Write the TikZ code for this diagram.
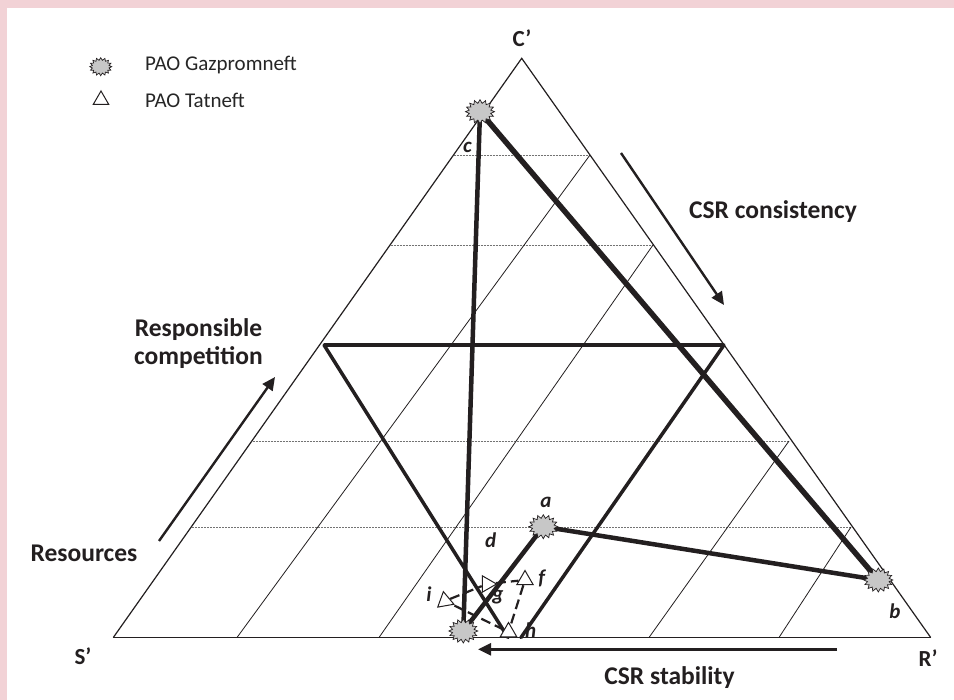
\documentclass[tikz,border=0pt]{standalone}
\usepackage{fontspec}
\setmainfont{Carlito}
\usetikzlibrary{shapes.symbols,shapes.geometric,arrows.meta}
\pgfdeclarelayer{bgfill}
\pgfdeclarelayer{lines}
\pgfsetlayers{bgfill,lines,main}
\definecolor{framepink}{RGB}{242,210,214}
\definecolor{ink}{RGB}{35,31,32}
\begin{document}
\begin{tikzpicture}[x=1pt,y=-1pt,
  edge/.style={line width=1.2pt, ink},
  thinline/.style={line width=0.8pt, ink},
  gridline/.style={line width=0.7pt, black!55, dash pattern=on 2pt off 1pt},
  heavy/.style={line width=4.5pt, ink},
  heavier/.style={line width=5.5pt, ink},
  midline/.style={line width=3.5pt, ink},
  gstar/.style={starburst, starburst points=16, starburst point height=3.5pt, random starburst=0, minimum width=29pt, minimum height=24pt, inner sep=0pt, fill=black!22, draw=ink, line width=0.7pt},
  tat/.style={regular polygon, regular polygon sides=3, draw=ink, fill=white, line width=1pt, inner sep=0pt, minimum size=19pt},
  tdash/.style={line width=2.2pt, ink, dash pattern=on 10pt off 5pt},
  lbl/.style={font=\bfseries\fontsize{25.5}{28}\selectfont, text=ink},
  vlbl/.style={font=\bfseries\fontsize{23}{25}\selectfont, text=ink},
  ptl/.style={font=\bfseries\itshape\fontsize{21}{23}\selectfont, text=ink},
  leg/.style={font=\fontsize{21}{24}\selectfont, text=black!85, anchor=west, inner sep=0pt},
  arr/.style={line width=2.4pt, ink, -{Triangle[length=13pt,width=12pt]}}
]
\useasboundingbox (0,0) rectangle (954,700);
\begin{pgfonlayer}{bgfill}
\fill[framepink] (0,0) rectangle (954,700);
\fill[white] (7,8) rectangle (954,700);
\end{pgfonlayer}

% main triangle
\coordinate (S) at (113.3,637.5);
\coordinate (R) at (930.7,637.5);
\coordinate (C) at (521.7,58.3);

% grid line ends
\coordinate (g1l) at (453.5,155);
\coordinate (g1r) at (590,155);
\coordinate (g2l) at (390.5,245);
\coordinate (g2r) at (653,245);
\coordinate (g3l) at (252.6,441);
\coordinate (g3r) at (789,441);
\coordinate (g4l) at (192,527);
\coordinate (g4r) at (851,527);
\coordinate (b1) at (237,637.5);
\coordinate (b2) at (379,637.5);
\coordinate (b3) at (649,637.5);
\coordinate (b4) at (779,637.5);

% inverted triangle
\coordinate (iL) at (324,345);
\coordinate (iR) at (724,345);
\coordinate (iB1) at (508,637.5);
\coordinate (iB2) at (521,637.5);

% stars
\node[gstar] (sc) at (480,111.7) {};
\node[gstar] (sa) at (543.3,526.7) {};
\node[gstar] (sb) at (878.3,580) {};
\node[gstar] (sd) at (463.3,631) {};

% Tatneft triangles
\node[tat] (tf) at (525,580) {};
\node[tat, rotate=-90] (tg) at (487,584) {};
\node[tat, rotate=10] (ti) at (445,601) {};
\node[tat] (th) at (508.5,632) {};

\begin{pgfonlayer}{lines}
\draw[gridline] (g1l) -- (g1r);
\draw[gridline] (g2l) -- (g2r);
\draw[gridline] (g3l) -- (g3r);
\draw[gridline] (g4l) -- (g4r);
\draw[thinline] (b1) -- (g1r);
\draw[thinline] (b2) -- (g2r);
\draw[thinline] (b3) -- (g3r);
\draw[thinline] (b4) -- (g4r);
\draw[edge] (S) -- (C) -- (R);
\draw[line width=1.8pt, ink] (S) -- (R);
\draw[midline] (iL) -- (iR);
\draw[midline, line cap=round] (iL) -- (iB1);
\draw[midline, line cap=round] (iR) -- (iB2);
\draw[heavy] (sc.center) -- (sd.center);
\draw[heavier] (sc.center) -- (sb.center);
\draw[heavy] (sa.center) -- (sb.center);
\draw[heavy] (sa.center) -- (sd.center);
\draw[tdash] (ti) -- (tg) -- (tf) -- (th) -- (ti);
\end{pgfonlayer}

% arrows
\coordinate (a1s) at (621,153);
\coordinate (a1e) at (724,305);
\coordinate (a2s) at (159,541);
\coordinate (a2e) at (275,377);
\coordinate (a3s) at (837,649.3);
\coordinate (a3e) at (478,649.3);
\draw[arr] (a1s) -- (a1e);
\draw[arr] (a2s) -- (a2e);
\draw[arr] (a3s) -- (a3e);

% labels
\node[vlbl] (lC) at (522,38) {C’};
\node[vlbl] (lS) at (83,656) {S’};
\node[vlbl] (lR) at (928,658.5) {R’};
\node[lbl] (lcons) at (773,212) {CSR consistency};
\node[lbl, align=center] (lresp) at (198.4,344) {Responsible\\competition};
\node[lbl] (lres) at (84,553.6) {Resources};
\node[lbl] (lstab) at (669.5,677.7) {CSR stability};

\node[ptl] (pa) at (546,502) {a};
\node[ptl] (pb) at (895,611) {b};
\node[ptl] (pc) at (467.5,147) {c};
\node[ptl] (pd) at (490.6,540) {d};
\node[ptl] (pf) at (541.7,578) {f};
\node[ptl] (pg) at (498,597) {g};
\node[ptl] (ph) at (530.7,630) {h};
\node[ptl] (pi) at (429,594.6) {i};

% legend
\node[gstar, minimum width=22pt, minimum height=18pt, starburst point height=2.5pt] (lgs) at (100.7,66.7) {};
\node[tat, minimum size=18pt] (lgt) at (101,100) {};
\node[leg] (lgst) at (145,65) {PAO Gazpromneft};
\node[leg] (lgtt) at (145,100) {PAO Tatneft};
\end{tikzpicture}
\end{document}
